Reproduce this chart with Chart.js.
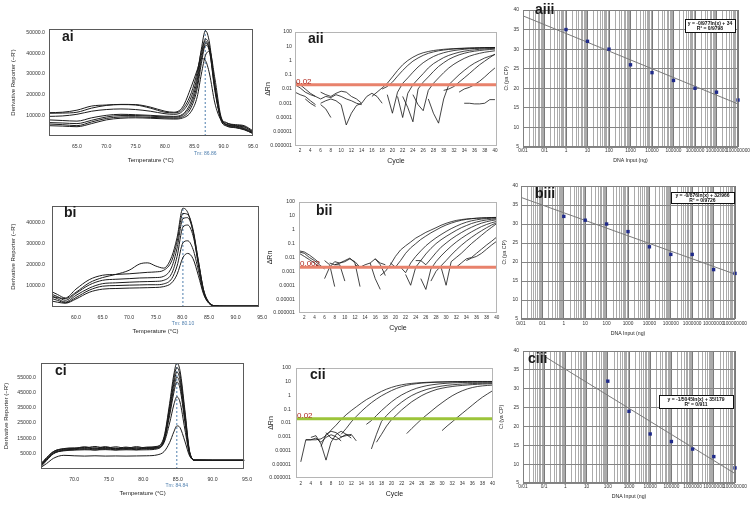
<!DOCTYPE html>
<html>
<head>
<meta charset="utf-8">
<script src="https://cdn.jsdelivr.net/npm/chart.js@4.4.0/dist/chart.umd.min.js"></script>
<style>
  html, body { margin: 0; padding: 0; background: #fff; }
  body { width: 753px; height: 507px; position: relative; overflow: hidden; }
  canvas { position: absolute; }
</style>
</head>
<body>
<script>
// ---- melt curves (ai, bi, ci) ----
const aiTemps = [60.2, 62.5, 65, 67.5, 70, 72.5, 75, 77.5, 80, 81.5, 83, 84.5, 85.5, 86.2, 86.9, 87.6, 88.5, 89.5, 90.5, 92, 93.5, 95];
const aiCurves = [
  [11300, 11500, 12500, 14500, 15000, 15300, 15200, 14000, 12000, 11500, 14000, 24000, 32000, 37500, 36500, 30000, 16000, 8000, 6200, 5500, 5000, 2500],
  [11000, 11100, 11500, 13500, 14800, 15200, 15000, 13500, 11500, 11200, 13000, 21000, 31000, 41000, 46000, 41000, 22000, 9000, 6500, 5000, 4300, 2000],
  [9500, 9700, 10500, 12000, 12800, 13100, 12800, 12000, 10800, 10500, 12000, 19000, 29000, 42000, 51000, 45000, 24000, 9000, 5500, 4500, 3500, 1500],
  [7800, 7500, 7200, 8800, 10000, 10500, 10300, 10000, 9600, 9500, 10500, 17000, 27000, 39000, 47000, 43000, 24000, 8500, 5000, 4200, 3200, 1200],
  [6500, 6300, 6000, 7600, 9200, 9900, 9900, 9600, 9200, 9100, 10000, 15500, 25000, 37000, 45000, 42000, 25000, 9000, 5500, 4800, 3800, 1500],
  [5800, 5500, 5000, 6800, 8500, 9200, 9300, 9000, 8800, 8600, 9300, 14000, 23000, 35000, 44000, 41000, 23000, 8000, 4800, 4000, 3000, 1200],
  [5000, 4800, 4500, 6000, 7800, 8600, 8800, 8600, 8300, 8200, 8700, 12000, 19000, 30000, 39000, 41000, 28000, 10000, 5500, 5200, 4600, 2000]
];
const aiTempTicks = [65, 70, 75, 80, 85, 90, 95];
const aiRepTicks = [10000, 20000, 30000, 40000, 50000];

const biTemps = [55.5, 56.5, 58, 60, 62.5, 65, 67.5, 70, 72, 73.5, 75, 76.5, 78, 79, 80.1, 81, 82, 83, 84, 85, 86, 88, 94.5];
const biCurves = [
  [5000, 4500, 4000, 7000, 11500, 14000, 15500, 17500, 20500, 21000, 19500, 18500, 24000, 33000, 47000, 45000, 36000, 20000, 7000, 2000, 600, 400, 400],
  [7200, 6000, 4300, 8500, 13000, 15100, 15500, 15800, 16200, 16500, 16700, 17500, 22000, 31000, 44500, 44000, 37000, 22000, 8000, 2200, 600, 400, 400],
  [6000, 5000, 3200, 6500, 10500, 12700, 13200, 13500, 13800, 13900, 14000, 14600, 19000, 28000, 42000, 42500, 36000, 22000, 8000, 2200, 600, 400, 400],
  [5000, 4000, 2400, 5500, 9000, 11100, 11500, 11800, 12000, 12100, 12200, 12700, 16000, 24000, 38000, 39000, 34000, 21000, 7500, 2000, 600, 400, 400],
  [4000, 3200, 2000, 4500, 8000, 9900, 10200, 10400, 10500, 10600, 10600, 11000, 13500, 19500, 30500, 31500, 27500, 17500, 6500, 1800, 600, 400, 400],
  [2800, 2300, 1800, 3800, 7000, 8500, 8800, 9000, 9100, 9200, 9300, 9700, 11500, 15500, 23500, 25500, 23000, 15000, 6000, 1700, 600, 400, 400]
];
const biTempTicks = [60, 65, 70, 75, 80, 85, 90, 95];
const biRepTicks = [10000, 20000, 30000, 40000];

const ciTemps = [65.2, 66, 67, 68.5, 70, 71.5, 73, 74.5, 76, 77.5, 79, 80.5, 82, 83, 83.8, 84.4, 84.85, 85.3, 86, 86.7, 87.5, 90, 94.6];
const ciCurves = [
  [-3000, 1000, 5500, 7500, 8000, 9200, 8200, 9300, 8000, 9000, 8200, 9000, 9500, 16000, 38000, 57000, 65000, 60000, 34000, 6000, 300, 200, 200],
  [-2500, 1500, 6000, 8000, 8500, 8400, 9400, 8300, 9200, 8100, 9300, 8200, 9200, 15000, 36000, 54000, 62000, 57000, 32000, 5500, 300, 200, 200],
  [-3500, 500, 5000, 7000, 7600, 8800, 7700, 8800, 7600, 8600, 7700, 8700, 8800, 14000, 34000, 51000, 59000, 54000, 30000, 5000, 300, 200, 200],
  [-2000, 2000, 6000, 7800, 8000, 7500, 8500, 7600, 8400, 7500, 8600, 7700, 8600, 13500, 32000, 48000, 55700, 51000, 28000, 5000, 300, 200, 200],
  [-4000, 0, 4500, 6800, 7200, 8000, 7000, 8000, 7100, 8000, 7200, 8100, 8300, 13000, 30000, 45000, 52400, 48000, 26000, 4500, 300, 200, 200],
  [-3000, 800, 4800, 6500, 7000, 7200, 7100, 7300, 7000, 7200, 7100, 7200, 7800, 12000, 25000, 37000, 42500, 39000, 21000, 4000, 300, 200, 200],
  [-4500, -2000, 1500, 3500, 3200, 3000, 3200, 3000, 3100, 3000, 3100, 3200, 3800, 6000, 12000, 19000, 23100, 22000, 13000, 3000, 200, 200, 200]
];
const ciTempTicks = [70, 75, 80, 85, 90, 95];
const ciRepTicks = [5000, 15000, 25000, 35000, 45000, 55000];

// ---- amplification plots (aii, bii, cii): [first cycle, dRn values] ----
const aiiCurves = [
  [1, [0.03, 0.02, 0.01, 0.005, 0.003]],
  [1, [0.02, 0.012, 0.006, 0.004, 0.003, 0.002]],
  [1, [0.006, 0.004, 0.003, 0.0015, 0.0008]],
  [3, [0.002, 0.001, 0.0006]],
  [6, [0.006, 0.004, 0.003, 0.005, 0.007, 0.006, 0.003, 0.002, 0.001]],
  [6, [0.002, 0.003, 0.0025, 0.004, 0.003, 0.002, 0.0015, 0.001, 0.0008]],
  [6, [0.001, 0.0015, 0.002, 0.0015, 0.0008, 0.00003, 0.0002, 0.0007, 0.001]],
  [6, [0.0008, 0.0004, 0.0001]],
  [14, [0.001, 0.003, 0.005, 0.003, 0.001]],
  [16, [0.003, 0.006, 0.012, 0.025, 0.07, 0.2, 0.5, 1.0, 1.7, 2.6, 3.5, 4.3, 5.0, 5.6, 6.1, 6.5, 6.8, 7.1, 7.3, 7.5, 7.7, 7.8, 7.9, 8.0, 8.0]],
  [18, [0.01, 0.015, 0.03, 0.08, 0.2, 0.45, 0.9, 1.5, 2.3, 3.2, 4.0, 4.8, 5.4, 6.0, 6.4, 6.8, 7.1, 7.4, 7.6, 7.8, 8.0, 8.1, 8.2]],
  [19, [0.004, 0.0002, 0.006, 0.025, 0.06, 0.15, 0.35, 0.7, 1.2, 1.9, 2.7, 3.5, 4.3, 5.0, 5.6, 6.1, 6.6, 7.0, 7.3, 7.6, 7.8, 8.0]],
  [21, [0.003, 0.0001, 0.005, 0.02, 0.05, 0.12, 0.3, 0.6, 1.0, 1.6, 2.3, 3.0, 3.8, 4.5, 5.1, 5.6, 6.1, 6.5, 6.9, 7.2]],
  [22, [0.003, 0.0005, 0.00005, 0.01, 0.03, 0.07, 0.17, 0.38, 0.7, 1.2, 1.8, 2.5, 3.2, 3.9, 4.5, 5.0, 5.5, 5.9, 6.3]],
  [24, [0.004, 0.0008, 0.0003, 0.008, 0.025, 0.06, 0.14, 0.3, 0.55, 0.9, 1.4, 2.0, 2.6, 3.2, 3.8, 4.3, 4.8]],
  [27, [0.002, 0.0002, 0.00004, 0.002, 0.02, 0.045, 0.1, 0.2, 0.38, 0.65, 1.0, 1.5, 2.0, 2.6]],
  [30, [0.008, 0.01, 0.015, 0.03, 0.06, 0.12, 0.25, 0.5, 0.9, 1.6, 2.8]],
  [33, [0.006, 0.01, 0.013, 0.02, 0.035, 0.07, 0.15, 0.3]],
  [34, [0.001, 0.001, 0.0009, 0.0009, 0.001, 0.0018, 0.0018]]
];
const biiCurves = [
  [1, [0.03, 0.025, 0.015, 0.008, 0.004]],
  [1, [0.025, 0.02, 0.01, 0.006, 0.003, 0.0015]],
  [1, [0.02, 0.012, 0.007, 0.004, 0.002]],
  [6, [0.0003, 0.002, 0.005, 0.004, 0.005, 0.008, 0.005, 0.002]],
  [6, [0.006, 0.003, 0.00008]],
  [7, [0.004, 0.003, 0.003, 0.0002]],
  [8, [0.003, 0.004, 0.006, 0.009, 0.004, 0.00008]],
  [12, [0.003, 0.002, 0.003, 0.004, 0.008, 0.004, 0.003]],
  [15, [0.004, 0.0003, 0.00005]],
  [16, [0.008, 0.003, 0.0005]],
  [17, [0.0005, 0.001, 0.003, 0.012, 0.035, 0.07, 0.13, 0.25, 0.4, 0.65, 0.95, 1.4, 2.1, 2.9, 3.8, 4.7, 5.4, 6.0, 6.4, 6.8, 7.1, 7.3, 7.5, 7.6]],
  [19, [0.004, 0.002, 0.006, 0.02, 0.05, 0.1, 0.2, 0.35, 0.6, 0.95, 1.5, 2.2, 3.0, 3.9, 4.8, 5.6, 6.2, 6.7, 7.1, 7.4, 7.6, 7.8]],
  [21, [0.002, 0.0008, 0.004, 0.012, 0.03, 0.07, 0.14, 0.26, 0.45, 0.75, 1.2, 1.8, 2.6, 3.5, 4.4, 5.2, 5.9, 6.4, 6.8, 7.0]],
  [22, [0.0006, 0.0001, 0.002, 0.006, 0.018, 0.045, 0.1, 0.19, 0.33, 0.55, 0.9, 1.4, 2.0, 2.8, 3.6, 4.4, 5.1, 5.7, 6.2]],
  [24, [0.006, 0.006, 0.003, 0.008, 0.022, 0.055, 0.11, 0.21, 0.37, 0.62, 1.0, 1.5, 2.2, 3.0, 3.8, 4.6, 5.3]],
  [25, [0.0003, 0.00005, 0.0015, 0.005, 0.013, 0.03, 0.065, 0.13, 0.24, 0.42, 0.7, 1.1, 1.7, 2.4, 3.2, 4.0]],
  [27, [0.0002, 0.001, 0.0025, 0.006, 0.015, 0.035, 0.075, 0.15, 0.28, 0.5, 0.85, 1.4, 2.2, 3.2]],
  [29, [0.002, 0.0001, 0.005, 0.01, 0.02, 0.045, 0.1, 0.2, 0.4, 0.8, 1.5, 2.8]],
  [32, [0.002, 0.004, 0.008, 0.01, 0.02, 0.04, 0.08, 0.15, 0.3]],
  [34, [0.006, 0.009, 0.012, 0.02, 0.04, 0.08, 0.15]]
];
const ciiCurves = [
  [3, [0.0006, 0.0006, 0.0008, 0.0004, 0.0009, 0.0014, 0.001, 0.0005]],
  [4, [0.0009, 0.0012, 0.0003, 0.00002, 0.0004, 0.0015, 0.0025, 0.0015, 0.0008]],
  [6, [0.0002, 0.0015, 0.0025, 0.002, 0.001, 0.0012, 0.0015, 0.0005]],
  [7, [0.002, 0.0008, 0.0006, 0.0009, 0.0015, 0.0012]],
  [2, [0.000015, 0.0006, 0.0006, 0.0006, 0.0007, 0.0012, 0.003, 0.007, 0.018, 0.04, 0.08, 0.15, 0.28, 0.5, 0.8, 1.3, 2.0, 2.9, 3.9, 5.0, 6.0, 6.9, 7.6, 8.2, 8.7, 9.1, 9.4, 9.7, 9.9, 10.1, 10.2, 10.3, 10.4, 10.5, 10.5, 10.5, 10.5, 10.5, 10.5]],
  [10, [0.0015, 0.004, 0.012, 0.03, 0.07, 0.15, 0.3, 0.55, 0.95, 1.5, 2.3, 3.3, 4.4, 5.5, 6.5, 7.3, 8.0, 8.5, 8.9, 9.2, 9.4, 9.6, 9.8, 9.9, 10.0, 10.0, 10.0, 10.0, 10.0, 10.0, 10.0]],
  [15, [0.008, 0.015, 0.035, 0.08, 0.17, 0.35, 0.65, 1.1, 1.7, 2.5, 3.4, 4.3, 5.2, 6.0, 6.7, 7.3, 7.8, 8.2, 8.5, 8.8, 9.0, 9.1, 9.2, 9.3, 9.4, 9.5]],
  [16, [0.00013, 0.0015, 0.013, 0.035, 0.08, 0.17, 0.33, 0.6, 1.0, 1.5, 2.1, 2.8, 3.5, 4.2, 4.9, 5.5, 6.0, 6.4, 6.8, 7.1, 7.4, 7.6, 7.8, 8.0, 8.1]],
  [17, [0.0004, 0.0015, 0.006, 0.018, 0.04, 0.09, 0.18, 0.35, 0.6, 1.0, 1.5, 2.1, 2.8, 3.4, 4.0, 4.5, 5.0, 5.4, 5.8, 6.2, 6.5, 6.8, 7.0, 7.2]],
  [23, [0.0017, 0.004, 0.009, 0.02, 0.04, 0.08, 0.16, 0.3, 0.55, 0.95, 1.5, 2.2, 3.0, 3.8, 4.5, 5.0, 5.4, 5.7]],
  [30, [0.0028, 0.006, 0.012, 0.025, 0.05, 0.1, 0.2, 0.4, 0.75, 1.3, 2.2]]
];
const cycleTicks = [2, 4, 6, 8, 10, 12, 14, 16, 18, 20, 22, 24, 26, 28, 30, 32, 34, 36, 38, 40];
const dRnTicks = [100, 10, 1, 0.1, 0.01, 0.001, 0.0001, 0.00001, 0.000001];
const dRnLabels = ['100', '10', '1', '0.1', '0.01', '0.001', '0.0001', '0.00001', '0.000001'];

// ---- standard curves (aiii, biii, ciii) ----
const doseLabels = ['0/01', '0/1', '1', '10', '100', '1000', '10000', '100000', '1000000', '10000000', '100000000'];
const stdAmounts = [1, 10, 100, 1000, 10000, 100000, 1000000, 10000000, 100000000];
const aiiiCt = [35, 32, 30, 26, 24, 22, 20, 19, 17];
const biiiCt = [32, 31, 30, 28, 24, 22, 22, 18, 17];
const ciiiAmounts = [100, 1000, 10000, 100000, 1000000, 10000000, 100000000];
const ciiiCt = [32, 24, 18, 16, 14, 12, 9];
const aiiiTrend = [[0.01, 38.5], [100000000, 16.0]];
const biiiTrend = [[0.01, 37.0], [100000000, 16.8]];
const ciiiTrend = [[0.04, 40], [100000000, 7.5]];

const FONT = '"Liberation Sans", Arial, sans-serif';

// frame, panel tag, Tm text, threshold text, equation box
const decoPlugin = {
  id: 'deco',
  afterDraw(chart, args, o) {
    const ctx = chart.ctx, a = chart.chartArea;
    ctx.save();
    ctx.strokeStyle = o.frame;
    ctx.lineWidth = 1;
    ctx.strokeRect(Math.round(a.left) + 0.5, Math.round(a.top) + 0.5, Math.round(a.right - a.left) - 1, Math.round(a.bottom - a.top) - 1);
    if (o.tm) {
      const x = chart.scales.x.getPixelForValue(o.tm.value);
      ctx.fillStyle = '#4f7fae';
      ctx.font = '5px ' + FONT;
      ctx.textAlign = 'center';
      ctx.textBaseline = 'middle';
      ctx.fillText(o.tm.text, x, a.bottom + o.tm.dy);
    }
    if (o.thr) {
      const y = chart.scales.y.getPixelForValue(o.thr.value);
      ctx.fillStyle = '#b0281f';
      ctx.font = '8px ' + FONT;
      ctx.textAlign = 'left';
      ctx.textBaseline = 'alphabetic';
      ctx.fillText(o.thr.text, a.left + 1, y + o.thr.dy);
    }
    if (o.eq) {
      const e = o.eq;
      const x0 = Math.round(a.right - e.right - e.w), y0 = Math.round(a.top + e.top);
      ctx.fillStyle = '#fff';
      ctx.fillRect(x0, y0, e.w, e.h);
      ctx.strokeStyle = '#111';
      ctx.lineWidth = 1;
      ctx.strokeRect(x0 + 0.5, y0 + 0.5, e.w, e.h);
      ctx.fillStyle = '#111';
      ctx.font = 'bold 5px ' + FONT;
      ctx.textAlign = 'center';
      ctx.textBaseline = 'middle';
      ctx.fillText(e.lines[0], x0 + e.w / 2, y0 + e.h * 0.32);
      ctx.fillText(e.lines[1], x0 + e.w / 2, y0 + e.h * 0.74);
    }
    if (o.label) {
      ctx.fillStyle = '#1a1a1a';
      ctx.font = 'bold 14px ' + FONT;
      ctx.textAlign = 'left';
      ctx.textBaseline = 'alphabetic';
      ctx.fillText(o.label.text, a.left + o.label.dx, a.top + o.label.dy);
    }
    ctx.restore();
  }
};

function placeCanvas(plot, m) {
  const cv = document.createElement('canvas');
  cv.width = m.yw + plot[2] - plot[0] + m.pr;
  cv.height = m.pt + plot[3] - plot[1] + m.xh;
  cv.style.left = (plot[0] - m.yw) + 'px';
  cv.style.top = (plot[1] - m.pt) + 'px';
  document.body.appendChild(cv);
  return cv;
}

function baseOptions(m, deco) {
  return {
    responsive: false,
    animation: false,
    events: [],
    layout: { padding: { top: m.pt, right: m.pr, left: 0, bottom: 0 } },
    plugins: { legend: { display: false }, tooltip: { enabled: false }, deco: deco }
  };
}

function f(size) { return { family: FONT, size: size }; }

// melt curve panel
function meltChart(plot, m, temps, curves, xr, yr, xTicks, yTicks, tm, deco) {
  const datasets = curves.map(ys => ({
    data: temps.map((t, i) => ({ x: t, y: ys[i] })),
    borderColor: '#1c1c1c', borderWidth: 1, pointRadius: 0, cubicInterpolationMode: 'monotone'
  }));
  datasets.push({
    data: [{ x: tm, y: yr[0] }, { x: tm, y: yr[1] }],
    borderColor: '#4f7fae', borderWidth: 1, borderDash: [2, 2], pointRadius: 0
  });
  const opts = baseOptions(m, deco);
  opts.scales = {
    x: {
      type: 'linear', min: xr[0], max: xr[1],
      grid: { display: false, drawTicks: false }, border: { display: false },
      afterBuildTicks: s => { s.ticks = xTicks.map(v => ({ value: v })); },
      afterFit: s => { s.height = m.xh; },
      ticks: { padding: m.xp, autoSkip: false, maxRotation: 0, minRotation: 0, color: '#333', font: f(5.2), callback: v => v.toFixed(1) },
      title: { display: true, text: 'Temperature (°C)', color: '#222', font: f(6), padding: { top: 0, bottom: m.xtp } }
    },
    y: {
      type: 'linear', min: yr[0], max: yr[1],
      grid: { display: false, drawTicks: false }, border: { display: false },
      afterBuildTicks: s => { s.ticks = yTicks.map(v => ({ value: v })); },
      afterFit: s => { s.width = m.yw; },
      ticks: { padding: m.yp, autoSkip: false, color: '#333', font: f(5.2), callback: v => v.toFixed(1) },
      title: { display: true, text: "Derivative Reporter (−R')", color: '#222', font: f(6), padding: { top: m.ytp, bottom: 0 } }
    }
  };
  new Chart(placeCanvas(plot, m), { type: 'line', data: { datasets }, options: opts, plugins: [decoPlugin] });
}

// amplification plot panel
function ampChart(plot, m, curves, xr, thr, thrColor, deco) {
  const datasets = [{
    data: [{ x: xr[0], y: thr }, { x: xr[1], y: thr }],
    borderColor: thrColor, borderWidth: 3, pointRadius: 0
  }];
  curves.forEach(([start, vals]) => {
    datasets.push({
      data: vals.map((v, i) => ({ x: start + i, y: v })),
      borderColor: '#151515', borderWidth: 0.8, pointRadius: 0, tension: 0
    });
  });
  const opts = baseOptions(m, deco);
  opts.scales = {
    x: {
      type: 'linear', min: xr[0], max: xr[1],
      grid: { display: false, drawTicks: false }, border: { display: false },
      afterBuildTicks: s => { s.ticks = cycleTicks.map(v => ({ value: v })); },
      afterFit: s => { s.height = m.xh; },
      ticks: { padding: m.xp, autoSkip: false, maxRotation: 0, minRotation: 0, color: '#333', font: f(4.6) },
      title: { display: true, text: 'Cycle', color: '#222', font: f(7), padding: { top: 0, bottom: m.xtp } }
    },
    y: {
      type: 'logarithmic', min: 0.000001, max: 100,
      grid: { display: false, drawTicks: false }, border: { display: false },
      afterBuildTicks: s => { s.ticks = dRnTicks.map(v => ({ value: v })); },
      afterFit: s => { s.width = m.yw; },
      ticks: {
        padding: m.yp, autoSkip: false, color: '#333', font: f(5.2),
        callback: v => {
          const i = dRnTicks.findIndex(t => Math.abs(Math.log10(t) - Math.log10(v)) < 1e-6);
          return i < 0 ? '' : dRnLabels[i];
        }
      },
      title: { display: true, text: 'ΔRn', color: '#222', font: f(7), padding: { top: m.ytp, bottom: 0 } }
    }
  };
  new Chart(placeCanvas(plot, m), { type: 'line', data: { datasets }, options: opts, plugins: [decoPlugin] });
}

// standard curve panel
function isDecade(v) {
  const l = Math.log10(v);
  return Math.abs(l - Math.round(l)) < 1e-6;
}
function stdChart(plot, m, xs, ys, trend, deco) {
  const gridVals = [];
  for (let e = -2; e < 8; e++) {
    for (let d = 1; d < 10; d++) gridVals.push(d * Math.pow(10, e));
  }
  gridVals.push(100000000);
  const datasets = [
    {
      data: xs.map((x, i) => ({ x: x, y: ys[i] })),
      pointStyle: 'rect', pointRadius: 2.4, backgroundColor: '#1f2a8a', borderColor: '#1f2a8a', borderWidth: 0,
      clip: 4
    },
    {
      data: trend.map(p => ({ x: p[0], y: p[1] })),
      showLine: true, borderColor: '#7a7a7a', borderWidth: 1, pointRadius: 0
    }
  ];
  const opts = baseOptions(m, deco);
  opts.scales = {
    x: {
      type: 'logarithmic', min: 0.01, max: 100000000,
      grid: { display: true, drawTicks: false, lineWidth: 1, color: c => (c.tick && isDecade(c.tick.value)) ? '#7a7a7a' : '#ababab' },
      border: { display: false },
      afterBuildTicks: s => { s.ticks = gridVals.map(v => ({ value: v })); },
      afterFit: s => { s.height = m.xh; },
      ticks: {
        padding: m.xp, autoSkip: false, maxRotation: 0, minRotation: 0, color: '#333', font: f(4.8),
        callback: v => isDecade(v) ? doseLabels[Math.round(Math.log10(v)) + 2] : ''
      },
      title: { display: true, text: 'DNA Input (ng)', color: '#222', font: f(5.2), padding: { top: 0, bottom: m.xtp } }
    },
    y: {
      type: 'linear', min: 5, max: 40,
      grid: { display: true, drawTicks: false, color: '#858585', lineWidth: 1 },
      border: { display: false },
      afterFit: s => { s.width = m.yw; },
      ticks: { stepSize: 5, padding: m.yp, color: '#333', font: f(5) },
      title: { display: true, text: 'Ct (ya CP)', color: '#222', font: f(5.2), padding: { top: m.ytp, bottom: 0 } }
    }
  };
  new Chart(placeCanvas(plot, m), { type: 'scatter', data: { datasets }, options: opts, plugins: [decoPlugin] });
}

// ---- row a ----
meltChart([49, 29, 253, 136], { yw: 49, pt: 8, pr: 12, xh: 30, xp: 7, xtp: 2.4, yp: 4, ytp: 9.4 },
  aiTemps, aiCurves, [60.24, 94.93], [0, 51800], aiTempTicks, aiRepTicks, 86.86,
  { frame: '#5a5a5a', label: { text: 'ai', dx: 13, dy: 12 }, tm: { value: 86.86, text: 'Tm: 86.86', dy: 18 } });
ampChart([295, 32, 497, 146], { yw: 40, pt: 10, pr: 8, xh: 20, xp: 2, xtp: 1.1, yp: 3, ytp: 8.8 },
  aiiCurves, [1.0, 40.4], 0.02, '#e8826c',
  { frame: '#b5b5b5', label: { text: 'aii', dx: 13, dy: 11 }, thr: { value: 0.02, text: '0.02', dy: -1 } });
stdChart([523, 10, 738, 147], { yw: 25, pt: 7, pr: 15, xh: 17, xp: 1, xtp: 0, yp: 4, ytp: 5.7 },
  stdAmounts, aiiiCt, aiiiTrend,
  { frame: '#808080', label: { text: 'aiii', dx: 12, dy: 4 }, eq: { lines: ['y = -0/977ln(x) + 34', 'R² = 0/9798'], right: 3, top: 9, w: 50, h: 13 } });

// ---- row b ----
meltChart([52, 206, 259, 307], { yw: 52, pt: 10, pr: 16, xh: 30, xp: 7, xtp: 2.4, yp: 7, ytp: 9.4 },
  biTemps, biCurves, [55.5, 94.4], [0, 48000], biTempTicks, biRepTicks, 80.10,
  { frame: '#5a5a5a', label: { text: 'bi', dx: 12, dy: 11 }, tm: { value: 80.10, text: 'Tm: 80.10', dy: 17 } });
ampChart([299, 202, 497, 313], { yw: 42, pt: 10, pr: 8, xh: 21, xp: 2, xtp: 1.8, yp: 4, ytp: 8.8 },
  biiCurves, [0.95, 40.05], 0.002, '#e8826c',
  { frame: '#b5b5b5', label: { text: 'bii', dx: 17, dy: 13 }, thr: { value: 0.002, text: '0.002', dy: -1 } });
stdChart([521, 186, 735, 319], { yw: 23, pt: 8, pr: 18, xh: 18, xp: 2, xtp: 0, yp: 3, ytp: 3.7 },
  stdAmounts, biiiCt, biiiTrend,
  { frame: '#808080', label: { text: 'biii', dx: 14, dy: 12 }, eq: { lines: ['y = -0/876ln(x) + 32/966', 'R² = 0/9726'], right: 1, top: 6, w: 63, h: 11 } });

// ---- row c ----
meltChart([41, 363, 251, 469], { yw: 41, pt: 10, pr: 8, xh: 30, xp: 7, xtp: 2.4, yp: 5, ytp: 2.4 },
  ciTemps, ciCurves, [65.2, 94.6], [-5600, 65000], ciTempTicks, ciRepTicks, 84.84,
  { frame: '#5a5a5a', label: { text: 'ci', dx: 14, dy: 12 }, tm: { value: 84.84, text: 'Tm: 84.84', dy: 17 } });
ampChart([296, 368, 493, 478], { yw: 38, pt: 10, pr: 8, xh: 22, xp: 3, xtp: 1.8, yp: 5, ytp: 8.8 },
  ciiCurves, [1.05, 40.1], 0.02, '#9cc43a',
  { frame: '#b5b5b5', label: { text: 'cii', dx: 14, dy: 11 }, thr: { value: 0.02, text: '0.02', dy: -1 } });
stdChart([523, 351, 735, 483], { yw: 25, pt: 8, pr: 18, xh: 17, xp: 0.5, xtp: 0, yp: 4, ytp: 0.7 },
  ciiiAmounts, ciiiCt, ciiiTrend,
  { frame: '#808080', label: { text: 'ciii', dx: 5, dy: 12 }, eq: { lines: ['y = -1/5045ln(x) + 35/179', 'R² = 0/911'], right: 2, top: 44, w: 74, h: 13 } });
</script>
</body>
</html>
